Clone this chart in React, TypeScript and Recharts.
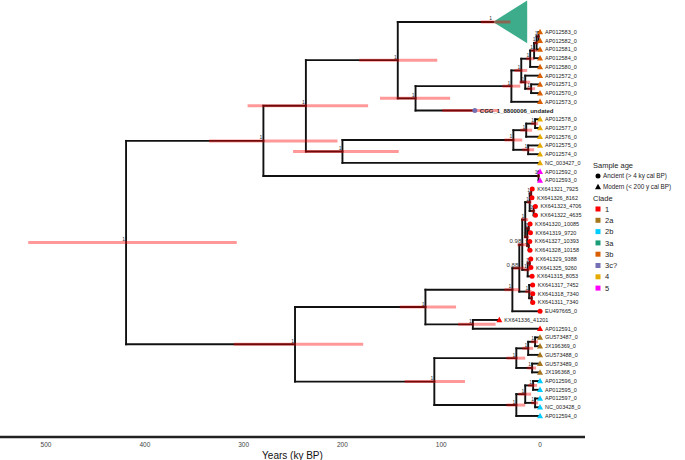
import React from "react";
import { ComposedChart, Area, Scatter, XAxis, YAxis, ReferenceLine } from "recharts";

// tips, top to bottom
const TIP_NAMES = [
  "AP012583_0", "AP012582_0", "AP012581_0", "AP012584_0", "AP012580_0",
  "AP012572_0", "AP012571_0", "AP012570_0", "AP012573_0", "CGG_1_8800006_undated",
  "AP012578_0", "AP012577_0", "AP012576_0", "AP012575_0", "AP012574_0",
  "NC_003427_0", "AP012592_0", "AP012593_0", "KX641321_7925", "KX641326_8162",
  "KX641323_4706", "KX641322_4635", "KX641320_10085", "KX641319_9720", "KX641327_10393",
  "KX641328_10158", "KX641329_9388", "KX641325_9260", "KX641315_8053", "KX641317_7452",
  "KX641318_7340", "KX641311_7340", "EU497665_0", "KX641336_41201", "AP012591_0",
  "GU573487_0", "JX196369_0", "GU573488_0", "GU573489_0", "JX196368_0",
  "AP012596_0", "AP012595_0", "AP012597_0", "NC_003428_0", "AP012594_0",
];
// ky BP
const TIP_AGES = [
  0, 0, 0, 0, 0, 0, 0, 0, 0, 66,
  0, 0, 0, 0, 0, 0, 0, 0, 7.925, 8.162,
  4.706, 4.635, 10.085, 9.72, 10.393, 10.158, 9.388, 9.26, 8.053, 7.452,
  7.34, 7.34, 0, 41.201, 0, 0, 0, 0, 0, 0,
  0, 0, 0, 0, 0,
];
const TIP_CLADES = [
  "3b", "3b", "3b", "3b", "3b", "3b", "3b", "3b", "3b", "3c?",
  "4", "4", "4", "4", "4", "4", "5", "5", "1", "1",
  "1", "1", "1", "1", "1", "1", "1", "1", "1", "1",
  "1", "1", "1", "1", "1", "2a", "2a", "2a", "2a", "2a",
  "2b", "2b", "2b", "2b", "2b",
];
const TIP_MODERN = [
  1, 1, 1, 1, 1, 1, 1, 1, 1, 0,
  1, 1, 1, 1, 1, 1, 1, 1, 0, 0,
  0, 0, 0, 0, 0, 0, 0, 0, 0, 0,
  0, 0, 0, 1, 1, 1, 1, 1, 1, 1,
  1, 1, 1, 1, 1,
];
const TIP_HPD: Record<string, [number, number]> = { "CGG_1_8800006_undated": [99, 42] };

// collapsed clade 3a
const COLLAPSED_ID = "CLADE_3A";
const COLLAPSED_ROW = -1.15;
const COLLAPSED_AGE = 47.6;
const COLLAPSED_END_AGE = 13;
const COLLAPSED_SPAN = [-3.62, 1.3];
const COLLAPSED_HPD: [number, number] = [60, 30];

const NODE_IDS = [
  "q1", "q2", "q3", "q4", "q5", "q6", "q7", "p", "d", "c",
  "s1", "s2", "s3", "r2", "e", "b", "m5", "a",
  "ka", "kb", "kc", "kd", "ke", "kf", "kg", "kh", "ki", "kj", "kk", "kl", "km", "kn",
  "h", "g", "ga", "gb", "gc", "gd", "ba", "bb", "bc", "bd", "i", "f", "root",
];
const NODE_CHILDREN = [
  ["AP012583_0", "AP012582_0"], ["q1", "AP012581_0"], ["q2", "AP012584_0"], ["q3", "AP012580_0"],
  ["AP012571_0", "AP012570_0"], ["AP012572_0", "q5"], ["q4", "q6"], ["q7", "AP012573_0"],
  ["p", "CGG_1_8800006_undated"], [COLLAPSED_ID, "d"],
  ["AP012578_0", "AP012577_0"], ["s1", "AP012576_0"], ["AP012575_0", "AP012574_0"], ["s2", "s3"],
  ["r2", "NC_003427_0"], ["c", "e"], ["AP012592_0", "AP012593_0"], ["b", "m5"],
  ["KX641321_7925", "KX641326_8162"], ["KX641323_4706", "KX641322_4635"], ["ka", "kb"],
  ["KX641320_10085", "KX641319_9720"], ["KX641327_10393", "KX641328_10158"], ["kd", "ke"],
  ["kc", "kf"], ["KX641329_9388", "KX641325_9260"], ["kh", "KX641315_8053"], ["kg", "ki"],
  ["KX641318_7340", "KX641311_7340"], ["KX641317_7452", "kk"], ["kj", "kl"], ["km", "EU497665_0"],
  ["KX641336_41201", "AP012591_0"], ["kn", "h"],
  ["GU573487_0", "JX196369_0"], ["ga", "GU573488_0"], ["GU573489_0", "JX196368_0"], ["gb", "gc"],
  ["AP012596_0", "AP012595_0"], ["AP012597_0", "NC_003428_0"], ["ba", "bb"], ["bc", "AP012594_0"],
  ["gd", "bd"], ["g", "i"], ["a", "f"],
];
const NODE_AGES = [
  1.5, 3.5, 6, 10, 9, 15, 19, 29, 126, 144,
  5, 14, 12, 27, 200, 237, 1.5, 280,
  9, 6.5, 10.5, 11.5, 11.5, 13, 15, 10.5, 12.5, 18, 8.5, 11, 21, 28,
  68, 116, 5, 12, 8, 24, 7, 5, 15, 24, 107, 248, 419,
];
const NODE_SUPPORT = [
  "1", "1", "1", "1", "1", "1", "1", "1", "1", "1",
  "1", "1", "1", "1", "1", "1", "1", "1",
  "1", "1", "1", "1", "1", "1", "1", "1", "1", "0.98", "1", "1", "0.88", "1",
  "1", "1", "1", "1", "1", "1", "1", "1", "1", "1", "1", "1", "1",
];
// 95% HPD [older, younger]
const NODE_HPD: [number, number][] = [
  [3, 0.5], [6, 1.5], [9, 3], [14, 6], [13, 5], [21, 10], [26, 13], [38, 20], [162, 91], [183, 104],
  [9, 2], [20, 8], [18, 6], [36, 18], [250, 143], [296, 174], [3, 0.5], [335, 205],
  [11, 8.3], [9, 4.8], [13, 8.5], [14, 10.2], [14, 10.5], [16, 11], [19, 12], [13, 9.4], [16, 10],
  [23, 14], [10.5, 7.4], [15, 8.5], [27, 16], [36, 21],
  [83, 45], [142, 85], [9, 2], [18, 7], [13, 4], [34, 15], [12, 3], [9, 2], [22, 9], [34, 15],
  [137, 76], [310, 179], [518, 307],
];

const CLADES = ["1", "2a", "2b", "3a", "3b", "3c?", "4", "5"];
const CLADE_COLORS = ["#FF0000", "#A6761D", "#00CCFF", "#1B9E77", "#D95F02", "#7570B3", "#E6AB02", "#FF00FF"];
const X_TICKS = [0, 100, 200, 300, 400, 500];

const FONT = "'Liberation Sans', Arial, sans-serif";
const cladeColor = (c: string) => CLADE_COLORS[CLADES.indexOf(c)];

// layout
const tipIndex = (id: string) => TIP_NAMES.indexOf(id);
const nodeIndex = (id: string) => NODE_IDS.indexOf(id);
function rowOf(id: string): number {
  if (id === COLLAPSED_ID) return COLLAPSED_ROW;
  const t = tipIndex(id);
  if (t >= 0) return t;
  const ch = NODE_CHILDREN[nodeIndex(id)];
  return (rowOf(ch[0]) + rowOf(ch[ch.length - 1])) / 2;
}
function ageOf(id: string): number {
  if (id === COLLAPSED_ID) return COLLAPSED_AGE;
  const t = tipIndex(id);
  if (t >= 0) return TIP_AGES[t];
  return NODE_AGES[nodeIndex(id)];
}

type Seg = { x1: number; y1: number; x2: number; y2: number };
const branches: Seg[] = [];
NODE_IDS.forEach((id, i) => {
  const age = NODE_AGES[i];
  const ch = NODE_CHILDREN[i];
  branches.push({ x1: age, y1: rowOf(ch[0]), x2: age, y2: rowOf(ch[ch.length - 1]) });
  ch.forEach((c) => branches.push({ x1: age, y1: rowOf(c), x2: ageOf(c), y2: rowOf(c) }));
});

const hpdBars: Seg[] = NODE_IDS.map((id, i) => ({
  x1: NODE_HPD[i][0], x2: NODE_HPD[i][1], y1: rowOf(id), y2: rowOf(id),
}));
hpdBars.push({ x1: COLLAPSED_HPD[0], x2: COLLAPSED_HPD[1], y1: COLLAPSED_ROW, y2: COLLAPSED_ROW });
Object.keys(TIP_HPD).forEach((k) =>
  hpdBars.push({ x1: TIP_HPD[k][0], x2: TIP_HPD[k][1], y1: rowOf(k), y2: rowOf(k) })
);

const tipData = TIP_NAMES.map((name, i) => ({
  x: TIP_AGES[i], y: i, name, clade: TIP_CLADES[i], modern: TIP_MODERN[i] === 1,
}));
const supportData = [
  ...NODE_IDS.map((id, i) => ({ x: NODE_AGES[i], y: rowOf(id), label: NODE_SUPPORT[i] })),
  { x: COLLAPSED_AGE, y: COLLAPSED_ROW, label: "1" },
];
const collapsedData = [
  { x: COLLAPSED_AGE, tri: [COLLAPSED_ROW, COLLAPSED_ROW] },
  { x: COLLAPSED_END_AGE, tri: COLLAPSED_SPAN },
];

const TipShape = (props: any) => {
  const { cx, cy, payload } = props;
  const col = cladeColor(payload.clade);
  const undated = payload.name.includes("undated");
  return (
    <g>
      {payload.modern ? (
        <polygon points={`${cx},${cy - 3.2} ${cx - 3},${cy + 2.3} ${cx + 3},${cy + 2.3}`} fill={col} />
      ) : (
        <circle cx={cx} cy={cy} r={2.5} fill={col} />
      )}
      <text
        x={cx + 5}
        y={cy}
        dy="0.35em"
        fontSize={undated ? 6 : 5.5}
        fontWeight={undated ? 700 : 400}
        fill="#222"
        fontFamily={FONT}
      >
        {payload.name}
      </text>
    </g>
  );
};

const SupportShape = (props: any) => {
  const { cx, cy, payload } = props;
  return (
    <text x={cx - 1} y={cy - 1.5} textAnchor="end" fontSize={payload.label === "1" ? 5 : 6} fill="#333" fontFamily={FONT}>
      {payload.label}
    </text>
  );
};

function LegendBox() {
  return (
    <svg width={95} height={145} style={{ position: "absolute", left: 590, top: 155 }}>
      <g fontFamily={FONT} fill="#222">
        <text x={3} y={10} dy="0.35em" fontSize={7.5}>Sample age</text>
        <circle cx={8} cy={21} r={2.5} fill="#000" />
        <text x={13} y={21} dy="0.35em" fontSize={6.3}>Ancient (&gt; 4 ky cal BP)</text>
        <polygon points="8,28.8 5,34.3 11,34.3" fill="#000" />
        <text x={13} y={32} dy="0.35em" fontSize={6.3}>Modern (&lt; 200 y cal BP)</text>
        <text x={3} y={43} dy="0.35em" fontSize={7.5}>Clade</text>
        {CLADES.map((c, i) => (
          <g key={c}>
            <rect x={5.5} y={54 + i * 11.3 - 2.5} width={5} height={5} fill={CLADE_COLORS[i]} />
            <text x={15} y={54 + i * 11.3} dy="0.35em" fontSize={7.5}>{c}</text>
          </g>
        ))}
      </g>
    </svg>
  );
}

export default function App() {
  return (
    <div style={{ position: "absolute", left: 0, top: 0, width: 685, height: 460, background: "#fff", fontFamily: FONT }}>
      <ComposedChart width={685} height={460} data={collapsedData} margin={{ top: 0, right: 100, bottom: 0, left: 0 }}>
        <XAxis
          dataKey="x"
          type="number"
          domain={[-45.5, 546.6]}
          reversed
          allowDataOverflow
          ticks={X_TICKS}
          tickLine={false}
          tickSize={3}
          height={23}
          axisLine={{ stroke: "#222", strokeWidth: 2.5 }}
          tick={{ fontSize: 6.5, fill: "#444", fontFamily: FONT }}
          label={{ value: "Years (ky BP)", position: "insideBottom", offset: 1, fontSize: 10, fill: "#111", fontFamily: FONT }}
        />
        <YAxis dataKey="y" type="number" domain={[-3.667, 46.41]} reversed hide allowDataOverflow />
        <Area
          dataKey="tri"
          type="linear"
          fill="#1B9E77"
          fillOpacity={0.85}
          stroke="none"
          isAnimationActive={false}
        />
        {branches.map((s, i) => (
          <ReferenceLine
            key={`br${i}`}
            segment={[{ x: s.x1, y: s.y1 }, { x: s.x2, y: s.y2 }]}
            stroke="#111"
            strokeWidth={1.9}
            strokeLinecap="square"
            ifOverflow="visible"
          />
        ))}
        {hpdBars.map((s, i) => (
          <ReferenceLine
            key={`hpd${i}`}
            segment={[{ x: s.x1, y: s.y1 }, { x: s.x2, y: s.y2 }]}
            stroke="#FF0000"
            strokeOpacity={0.4}
            strokeWidth={3}
            ifOverflow="visible"
          />
        ))}
        <Scatter data={tipData} shape={TipShape} isAnimationActive={false} />
        <Scatter data={supportData} shape={SupportShape} isAnimationActive={false} />
      </ComposedChart>
      <LegendBox />
    </div>
  );
}
